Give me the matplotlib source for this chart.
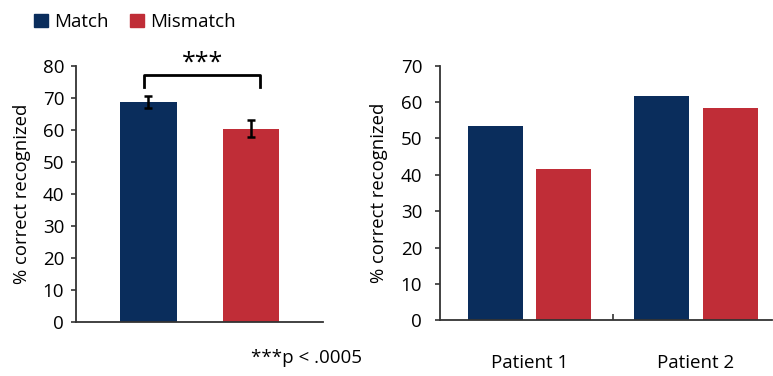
import matplotlib.pyplot as plt
import numpy as np

plt.rcParams['font.family'] = ['Open Sans', 'DejaVu Sans']

# Data
conditions = ['Match', 'Mismatch']
overall_mean = [68.6, 60.3]
overall_err = [1.9, 2.6]

patients = ['Patient 1', 'Patient 2']
match_vals = [53.3, 61.7]
mismatch_vals = [41.7, 58.3]

blue = '#0a2d5c'
red = '#c02d37'
axis_col = '#333333'

fig = plt.figure(figsize=(7.73, 3.76), dpi=100)

# Left panel: group means
ax1 = fig.add_axes([0.0983, 0.1444, 0.3192, 0.681])
x1 = np.arange(len(conditions))
ax1.bar(x1, overall_mean, 0.55, color=[blue, red])
ax1.errorbar(x1, overall_mean, yerr=overall_err, fmt='none', ecolor='black',
             elinewidth=1.8, capsize=3, capthick=1.8)
ax1.set_xlim(-0.704, 1.698)
ax1.set_ylim(0, 80)
ax1.set_yticks(np.arange(0, 81, 10))
ax1.set_xticks([])

# significance bracket
ax1.plot([-0.04, -0.04, 1.09, 1.09], [73.2, 77.1, 77.1, 73.2], color='black',
         lw=2, clip_on=False)
ax1.text(0.53, 80.8, '***', ha='center', va='center', fontsize=18)
ax1.text(0.936, -0.143, '***p < .0005', transform=ax1.transAxes, ha='center',
         va='center', fontsize=13.5)

# Right panel: individual patients
ax2 = fig.add_axes([0.5696, 0.1481, 0.4287, 0.6772])
x2 = np.arange(len(patients))
off = 0.207
w = 0.331
ax2.bar(x2 - off, match_vals, w, color=blue)
ax2.bar(x2 + off, mismatch_vals, w, color=red)
ax2.set_xlim(-0.537, 1.457)
ax2.set_ylim(0, 70)
ax2.set_yticks(np.arange(0, 71, 10))
ax2.set_xticks([0.5])
ax2.set_xticklabels([''])
ax2.tick_params(axis='x', which='major', direction='in', length=4,
                width=1.2, color=axis_col)
ax2.set_xticks(x2, minor=True)
ax2.set_xticklabels(patients, minor=True)
ax2.tick_params(axis='x', which='minor', length=0, pad=24, labelsize=13.5)

for ax in (ax1, ax2):
    ax.spines['top'].set_visible(False)
    ax.spines['right'].set_visible(False)
    for s in ('left', 'bottom'):
        ax.spines[s].set_color(axis_col)
        ax.spines[s].set_linewidth(1.3)
    ax.tick_params(axis='y', direction='out', length=3.5, width=1.2,
                   color=axis_col, labelsize=13.5)

ax1.tick_params(axis='y', pad=5)
ax2.tick_params(axis='y', pad=9.5)
ax1.set_ylabel('% correct recognized', fontsize=13.3)
ax1.yaxis.set_label_coords(-0.181, 0.5)
ax2.set_ylabel('% correct recognized', fontsize=13.3, labelpad=9)

# legend at top left
handles = [plt.Rectangle((0, 0), 1, 1, color=c) for c in (blue, red)]
fig.legend(handles, conditions, loc='upper left', bbox_to_anchor=(0.022, 1.01),
           ncol=2, frameon=False, fontsize=13.5, handlelength=0.75,
           handleheight=0.75, handletextpad=0.35, columnspacing=1.1)

plt.savefig('out.png', dpi=100)
